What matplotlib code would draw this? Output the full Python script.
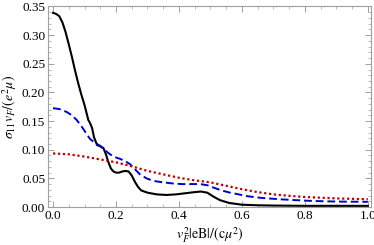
import matplotlib
matplotlib.use('Agg')
import matplotlib.pyplot as plt
from matplotlib.ticker import MultipleLocator

# values
xBlack = [0.0, 0.01, 0.02, 0.03, 0.04, 0.05, 0.06, 0.07, 0.08, 0.09, 0.1, 0.106,
          0.112, 0.118, 0.124, 0.13, 0.14, 0.15, 0.16, 0.168, 0.176, 0.184, 0.192,
          0.2, 0.21, 0.22, 0.23, 0.24, 0.25, 0.26, 0.27, 0.28, 0.3, 0.33, 0.36,
          0.39, 0.42, 0.45, 0.47, 0.49, 0.51, 0.53, 0.56, 0.6, 0.65, 0.7, 0.8, 0.9, 1.0]
yBlack = [0.339, 0.337, 0.333, 0.322, 0.305, 0.284, 0.262, 0.238, 0.216, 0.196,
          0.178, 0.165, 0.152, 0.146, 0.138, 0.122, 0.108, 0.106, 0.103, 0.092,
          0.078, 0.067, 0.062, 0.060, 0.060, 0.062, 0.063, 0.062, 0.055, 0.044,
          0.035, 0.029, 0.025, 0.022, 0.021, 0.022, 0.024, 0.026, 0.027, 0.025,
          0.018, 0.012, 0.007, 0.004, 0.003, 0.0025, 0.002, 0.002, 0.002]

xBlue = [0.0, 0.02, 0.043, 0.06, 0.075, 0.09, 0.105, 0.117, 0.133, 0.149, 0.165,
         0.181, 0.197, 0.213, 0.229, 0.244, 0.26, 0.276, 0.297, 0.318, 0.35,
         0.382, 0.41, 0.435, 0.467, 0.49, 0.509, 0.535, 0.562, 0.59, 0.615, 0.66,
         0.72, 0.77, 0.826, 0.9, 1.0]
yBlue = [0.1725, 0.171, 0.166, 0.160, 0.152, 0.141, 0.129, 0.119, 0.112, 0.107,
         0.099, 0.092, 0.087, 0.084, 0.080, 0.075, 0.066, 0.057, 0.050, 0.0456,
         0.043, 0.041, 0.040, 0.040, 0.040, 0.038, 0.034, 0.029, 0.025, 0.022,
         0.019, 0.016, 0.0135, 0.012, 0.0105, 0.0095, 0.009]

xRed = [0.0, 0.05, 0.1, 0.15, 0.2, 0.25, 0.3, 0.35, 0.4, 0.45, 0.5, 0.55,
        0.6, 0.65, 0.7, 0.75, 0.8, 0.9, 1.0]
yRed = [0.0935, 0.092, 0.088, 0.083, 0.078, 0.071, 0.063, 0.057, 0.051, 0.0465,
        0.043, 0.037, 0.031, 0.026, 0.022, 0.0195, 0.0175, 0.015, 0.0135]

plt.rcParams['font.family'] = ['Liberation Serif', 'DejaVu Serif']
plt.rcParams['mathtext.fontset'] = 'stix'

fig = plt.figure(figsize=(3.74, 2.45), dpi=100)
ax = fig.add_axes([48 / 374, 1 - 207 / 245, 323 / 374, 200.5 / 245])

ax.plot(xBlack, yBlack, color='black', lw=1.5)
ax.plot(xBlue, yBlue, color=(0.0, 0.0, 0.8), lw=1.4, dashes=(4, 2))
ax.plot(xRed, yRed, color=(0.75, 0.0, 0.0), lw=1.6, dashes=(1, 1.2))

ax.set_xlim(-0.016, 1.01)
ax.set_ylim(0, 0.35)
ax.xaxis.set_major_locator(MultipleLocator(0.2))
ax.xaxis.set_minor_locator(MultipleLocator(0.05))
ax.yaxis.set_major_locator(MultipleLocator(0.05))
ax.yaxis.set_minor_locator(MultipleLocator(0.01))
ax.xaxis.set_major_formatter(plt.FuncFormatter(lambda v, p: '%.1f' % v))
ax.yaxis.set_major_formatter(plt.FuncFormatter(lambda v, p: '%.2f' % v))

for s in ax.spines.values():
    s.set_color('#a0a0a0')
    s.set_linewidth(0.8)
ax.tick_params(which='both', direction='in', top=True, right=True, color='#a0a0a0',
               labelsize=9.5, pad=2)
ax.tick_params(which='major', length=4, width=0.7)
ax.tick_params(which='minor', length=2, width=0.5)

ax.set_xlabel(r'$v_F^2|\mathrm{eB}|/(\mathrm{c}\mu^2)$', fontsize=10, labelpad=3)
ax.set_ylabel(r'$\sigma_{11}v_F/(e^2\mu)$', fontsize=10, labelpad=2)

fig.savefig('out.png', dpi=100)
